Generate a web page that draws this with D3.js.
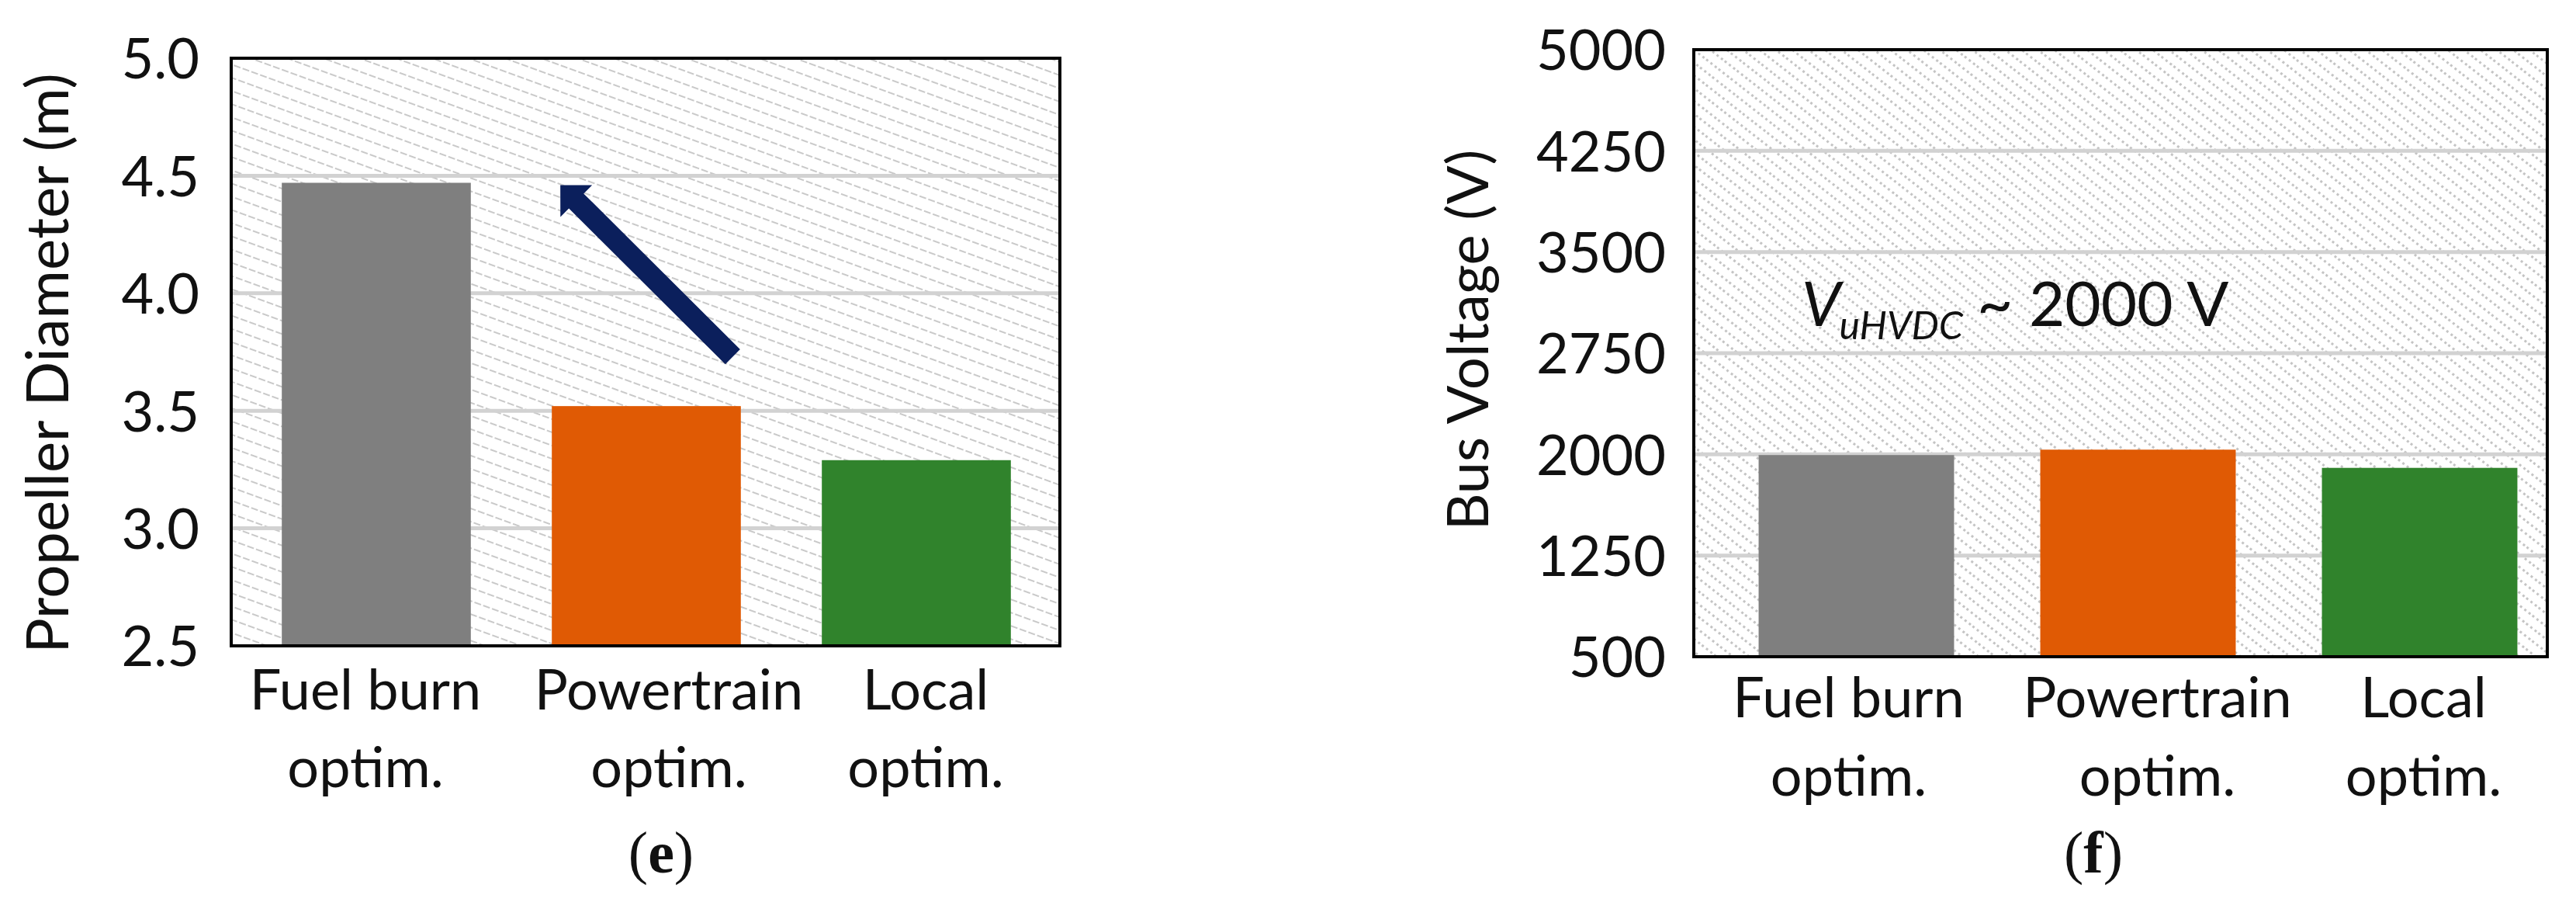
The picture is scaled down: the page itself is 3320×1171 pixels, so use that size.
<!DOCTYPE html>
<html>
<head>
<meta charset="utf-8">
<script src="https://cdn.jsdelivr.net/npm/d3@7"></script>
<style>
  html, body { margin: 0; padding: 0; background: #fff; }
  svg { display: block; }
  text { font-family: Lato, "Open Sans", sans-serif; fill: #111; }
</style>
</head>
<body>
<svg id="chart" width="3320" height="1171"></svg>
<script>
// ---------- data ----------
const categories = ["Fuel burn optim.", "Powertrain optim.", "Local optim."];
const categoryLines = [["Fuel burn", "optim."], ["Powertrain", "optim."], ["Local", "optim."]];
const barColors = ["#7f7f7f", "#e05a04", "#30832c"];

const propellerDiameter = [4.47, 3.52, 3.29];          // (e) m
const propellerTicks = [2.5, 3.0, 3.5, 4.0, 4.5, 5.0];

const busVoltage = [1995, 2035, 1900];                  // (f) V
const voltageTicks = [500, 1250, 2000, 2750, 3500, 4250, 5000];

// arrow annotation in panel (e): from Powertrain level up to Fuel burn level
const arrowTail = { cat: 1, frac: 0.957, value: 3.73 };
const arrowTip  = { cat: 1, frac: 0.045, value: 4.46 };

// ---------- layout ----------
const svg = d3.select("#chart");
const defs = svg.append("defs");

function hatch(id, angle, w, h, dash, color, sw) {
  const p = defs.append("pattern")
    .attr("id", id).attr("patternUnits", "userSpaceOnUse")
    .attr("width", w).attr("height", h)
    .attr("patternTransform", `rotate(${angle})`);
  p.append("rect").attr("width", w).attr("height", h).attr("fill", "#fff");
  p.append("line").attr("x1", 0).attr("x2", w).attr("y1", h / 2).attr("y2", h / 2)
    .attr("stroke", color).attr("stroke-width", sw).attr("stroke-dasharray", dash);
}
hatch("hatchE", 20, 24, 16, "9 3", "#c9c9c9", 2.2);
hatch("hatchF", 38, 20, 13, "3 4", "#c4c4c4", 2.8);

function panel(cfg) {
  const g = svg.append("g");
  const { left, right, top, bottom } = cfg.plot;

  const y = d3.scaleLinear().domain(cfg.domain).range([bottom, top]);
  const x = d3.scaleBand().domain(categories).range(cfg.xRange)
    .paddingInner(cfg.pad).paddingOuter(cfg.pad / 2);

  // background with hatching
  g.append("rect").attr("x", left).attr("y", top)
    .attr("width", right - left).attr("height", bottom - top)
    .attr("fill", `url(#${cfg.pattern})`);

  // gridlines
  g.append("g").selectAll("line")
    .data(cfg.ticks.filter(t => t !== cfg.domain[0] && t !== cfg.domain[1]))
    .join("line")
    .attr("x1", left).attr("x2", right)
    .attr("y1", d => y(d)).attr("y2", d => y(d))
    .attr("stroke", "#d2d2d2").attr("stroke-width", 5);

  // bars
  g.append("g").selectAll("rect")
    .data(cfg.values)
    .join("rect")
    .attr("x", (d, i) => x(categories[i]))
    .attr("width", x.bandwidth())
    .attr("y", d => y(d))
    .attr("height", d => bottom - y(d))
    .attr("fill", (d, i) => barColors[i]);

  // frame
  g.append("rect").attr("x", left).attr("y", top)
    .attr("width", right - left).attr("height", bottom - top)
    .attr("fill", "none").attr("stroke", "#000").attr("stroke-width", 4);

  // y axis (labels only)
  const yAxis = d3.axisLeft(y).tickValues(cfg.ticks).tickFormat(cfg.fmt).tickSize(0).tickPadding(0);
  const ay = g.append("g").attr("transform", `translate(${cfg.tickX},0)`).call(yAxis);
  ay.select(".domain").remove();
  ay.selectAll("text").attr("font-size", 72).attr("font-family", "Lato, sans-serif")
    .attr("fill", "#111").attr("dy", "0.36em");

  // x category labels
  const xl = g.append("g").selectAll("text")
    .data(categoryLines)
    .join("text")
    .attr("text-anchor", "middle")
    .attr("font-size", 72);
  xl.each(function (lines, i) {
    const cx = x(categories[i]) + x.bandwidth() / 2 + cfg.labelDx[i];
    d3.select(this).selectAll("tspan").data(lines).join("tspan")
      .attr("x", cx)
      .attr("y", (d, j) => bottom + cfg.labelY[j])
      .text(d => d);
  });

  // y title
  g.append("text")
    .attr("transform", `translate(${cfg.titleX},${cfg.titleY}) rotate(-90)`)
    .attr("text-anchor", "middle").attr("font-size", cfg.titleSize)
    .text(cfg.title);

  // panel letter
  const lt = g.append("text")
    .attr("x", cfg.letterX).attr("y", 1124)
    .attr("text-anchor", "middle")
    .style("font-family", "'Liberation Serif', 'DejaVu Serif', serif")
    .attr("font-size", 76);
  lt.append("tspan").text("(");
  lt.append("tspan").attr("font-weight", "bold").text(cfg.letter);
  lt.append("tspan").text(")");

  return { g, x, y };
}

// ---------- panel (e) ----------
const pe = panel({
  plot: { left: 298, right: 1366, top: 75, bottom: 832 },
  domain: [2.5, 5.0], ticks: propellerTicks, fmt: d3.format(".1f"),
  xRange: [311, 1355], pad: 0.30,
  values: propellerDiameter, pattern: "hatchE",
  tickX: 257, labelDx: [-14, 29, 12], labelY: [82, 182],
  title: "Propeller Diameter (m)", titleX: 88, titleY: 468, titleSize: 76,
  letter: "e", letterX: 852
});

// arrow
(function () {
  const bw = pe.x.bandwidth();
  const tx = pe.x(categories[arrowTail.cat]) + arrowTail.frac * bw, ty = pe.y(arrowTail.value);
  const hx = pe.x(categories[arrowTip.cat]) + arrowTip.frac * bw,  hy = pe.y(arrowTip.value);
  const L = Math.hypot(hx - tx, hy - ty);
  const ux = (hx - tx) / L, uy = (hy - ty) / L;
  const nx = -uy, ny = ux;
  const sw = 13.5, hw = 29, hl = 29;
  const bx = hx - ux * hl, by = hy - uy * hl;
  const pts = [
    [tx + nx * sw, ty + ny * sw],
    [bx + nx * sw, by + ny * sw],
    [bx + nx * hw, by + ny * hw],
    [hx, hy],
    [bx - nx * hw, by - ny * hw],
    [bx - nx * sw, by - ny * sw],
    [tx - nx * sw, ty - ny * sw]
  ];
  pe.g.append("path").attr("d", d3.line()(pts) + "Z").attr("fill", "#0b1f5c");
})();

// ---------- panel (f) ----------
const pf = panel({
  plot: { left: 2183, right: 3283, top: 64, bottom: 846 },
  domain: [500, 5000], ticks: voltageTicks, fmt: d3.format("d"),
  xRange: [2211, 3300], pad: 0.306,
  values: busVoltage, pattern: "hatchF",
  tickX: 2147, labelDx: [-10, 25, 5], labelY: [78, 179],
  title: "Bus Voltage (V)", titleX: 1918, titleY: 438, titleSize: 74,
  letter: "f", letterX: 2698
});

// annotation
const ann = pf.g.append("text").attr("x", 2322).attr("y", 420).attr("font-size", 80);
ann.append("tspan").attr("font-style", "italic").text("V");
ann.append("tspan").attr("font-style", "italic").attr("font-size", 50).attr("dx", -2).attr("dy", 17).text("uHVDC");
ann.append("tspan").attr("dy", -17).attr("dx", 18).text("~ 2000 V");
</script>
</body>
</html>
